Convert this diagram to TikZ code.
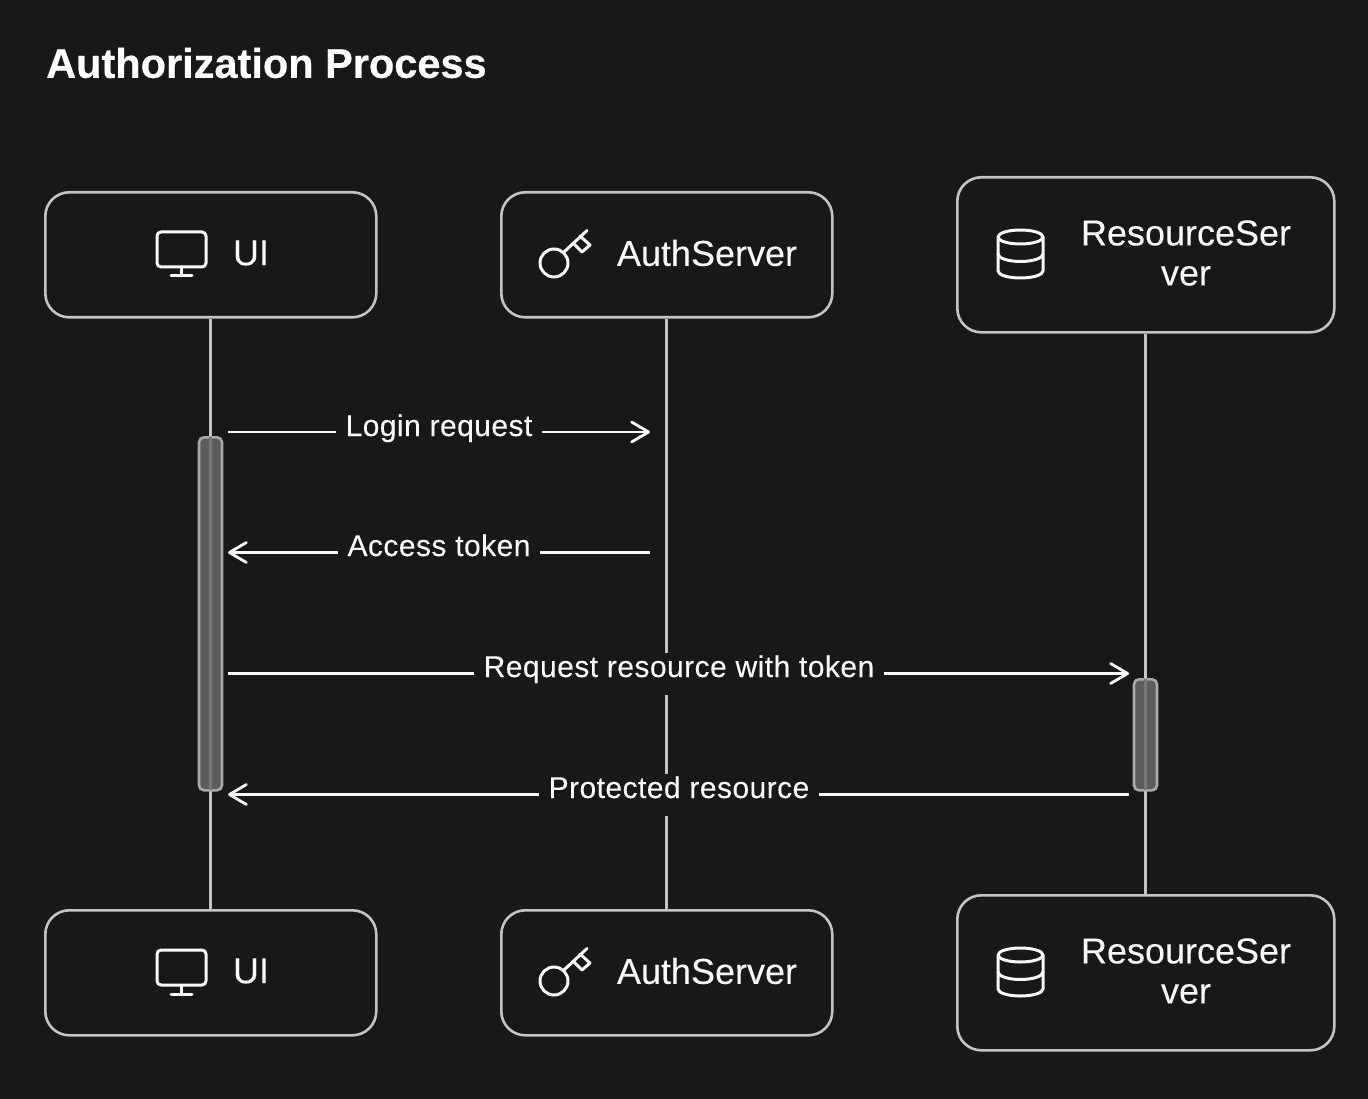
\documentclass[tikz,border=0pt]{standalone}
\usepackage{fontspec}
\setmainfont{Liberation Sans}
\usetikzlibrary{arrows.meta}
\definecolor{bgc}{HTML}{181818}
\definecolor{edgec}{HTML}{C4C4C4}
\definecolor{actc}{HTML}{5C5C5C}
\definecolor{actline}{HTML}{767676}
\definecolor{actedge}{HTML}{A8A8A8}
\definecolor{txtc}{HTML}{F8F8F8}
\tikzset{
  x=1pt,y=-1pt,
  boxnode/.style={draw=edgec,line width=2.6pt,rounded corners=24pt,fill=bgc,inner sep=0pt,anchor=north west},
  lifeline/.style={draw=edgec,line width=2.8pt},
  actbox/.style={draw=actedge,line width=2.6pt,rounded corners=5pt,fill=actc,inner sep=0pt,minimum width=23pt,anchor=north},
  actcore/.style={draw=actline,line width=2.8pt},
  msg/.style={draw=txtc,line width=2.8pt,-{Straight Barb[length=17pt,width=20pt,line width=2.8pt,round]}},
  msglabel/.style={fill=bgc,text=txtc,font=\fontsize{30}{34}\selectfont\addfontfeature{LetterSpace=1.5,FakeBold=0.15},inner xsep=9.5pt,inner ysep=0pt,text height=24pt,text depth=18pt,anchor=base},
  boxlabel/.style={text=txtc,font=\fontsize{36}{40}\selectfont\addfontfeature{FakeBold=0.15},inner sep=0pt,align=center},
  icon/.style={draw=txtc,line width=3pt,line cap=round,line join=round},
}
\newcommand{\monitoricon}[2]{%
  \begin{scope}[shift={(#1,#2)}]
    \draw[icon,rounded corners=4pt] (157,232) rectangle (206,267);
    \draw[icon] (181,267) -- (181,276);
    \draw[icon] (171,276) -- (192,276);
  \end{scope}}
\newcommand{\keyicon}[2]{%
  \begin{scope}[shift={(#1,#2)}]
    \draw[icon] (554,263) circle (14);
    \draw[icon] (564,252) -- (587,230.5);
    \draw[icon] (580,236) -- (590,245) -- (582,252) -- (573,243);
  \end{scope}}
\newcommand{\dbicon}[2]{%
  \begin{scope}[shift={(#1,#2)}]
    \draw[icon] (1020.5,237) ellipse [x radius=22.5,y radius=7];
    \draw[icon] (998,237) -- (998,271) arc [start angle=180,end angle=0,x radius=22.5,y radius=7] -- (1043,237);
    \draw[icon] (998,254) arc [start angle=180,end angle=0,x radius=22.5,y radius=7.5];
  \end{scope}}
\begin{document}
\begin{tikzpicture}
\useasboundingbox[fill=bgc] (0,0) rectangle (1368,1099);
\node[text=white,font=\fontsize{41.5}{48}\selectfont\bfseries\addfontfeature{FakeBold=0.5},anchor=west,inner sep=0pt] (title) at (46,63) {Authorization Process};

\node[boxnode,minimum width=331pt,minimum height=125pt] (uitop) at (44,191) {};
\node[boxnode,minimum width=331pt,minimum height=125pt] (authtop) at (500,191) {};
\node[boxnode,minimum width=377pt,minimum height=155pt] (restop) at (956,176) {};
\node[boxnode,minimum width=331pt,minimum height=125pt] (uibot) at (44,909) {};
\node[boxnode,minimum width=331pt,minimum height=125pt] (authbot) at (500,909) {};
\node[boxnode,minimum width=377pt,minimum height=155pt] (resbot) at (956,894) {};

\draw[lifeline] (uitop.south) -- (uibot.north);
\draw[lifeline] (authtop.south) -- (authbot.north);
\draw[lifeline] (restop.south) -- (resbot.north);

\node[actbox,minimum height=353pt] (uiact) at (210.5,436) {};
\node[actbox,minimum height=111pt] (resact) at (1145.5,678) {};
\draw[actcore] ([yshift=-1.25pt]uiact.north) -- ([yshift=1.25pt]uiact.south);
\draw[actcore] ([yshift=-1.25pt]resact.north) -- ([yshift=1.25pt]resact.south);

\monitoricon{0}{0}\monitoricon{0}{718}
\keyicon{0}{0}\keyicon{0}{718}
\dbicon{0}{0}\dbicon{0}{718}

\node[boxlabel] (uilab) at (251,253) {UI};
\node[boxlabel] (authlab) at (707,253) {AuthServer};
\node[boxlabel] (reslab) at (1186,253) {ResourceSer\\ver};
\node[boxlabel] (uilabb) at (251,971) {UI};
\node[boxlabel] (authlabb) at (707,971) {AuthServer};
\node[boxlabel] (reslabb) at (1186,971) {ResourceSer\\ver};

\coordinate (m1a) at (228,432); \coordinate (m1b) at (650,432);
\coordinate (m2a) at (650,552.5); \coordinate (m2b) at (228,552.5);
\coordinate (m3a) at (228,673.5); \coordinate (m3b) at (1129,673.5);
\coordinate (m4a) at (1129,794.5); \coordinate (m4b) at (228,794.5);
\draw[msg] (m1a) -- (m1b);
\draw[msg] (m2a) -- (m2b);
\draw[msg] (m3a) -- (m3b);
\draw[msg] (m4a) -- (m4b);
\node[msglabel] (l1) at (439,436) {Login request};
\node[msglabel] (l2) at (439,556) {Access token};
\node[msglabel] (l3) at (679,677) {Request resource with token};
\node[msglabel] (l4) at (679,798) {Protected resource};
\end{tikzpicture}
\end{document}
